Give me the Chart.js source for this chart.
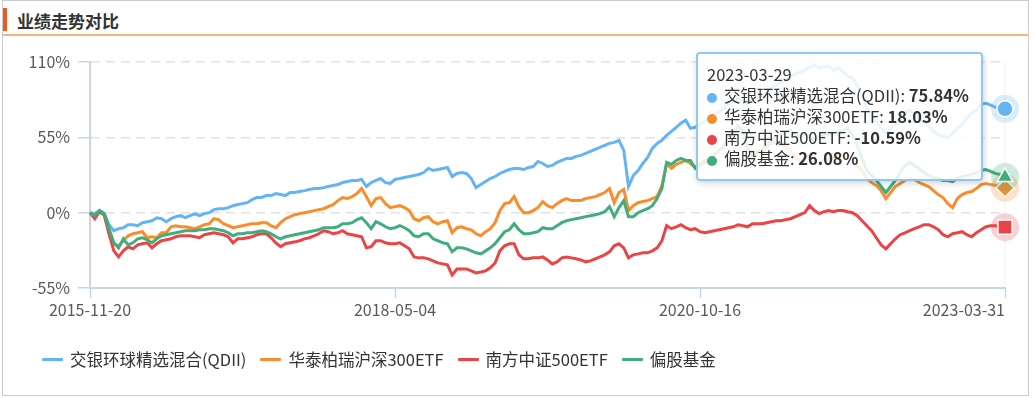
<!DOCTYPE html>
<html>
<head>
<meta charset="utf-8">
<script src="https://cdn.jsdelivr.net/npm/chart.js@4.4.1/dist/chart.umd.min.js"></script>
<style>
  body { margin: 0; background: #fff; font-family: "Noto Sans CJK SC", "Noto Sans", sans-serif; }
  #wrap { position: relative; width: 1036px; height: 398px; overflow: hidden; }
  #frame { position: absolute; left: 2px; top: 0; width: 1025px; height: 394px; border: 1px solid #cbcbcb; }
  #bar { position: absolute; left: 3px; top: 8px; width: 4px; height: 23px; background: #ec5a22; }
  #title { position: absolute; left: 17px; top: 9px; font-size: 17px; font-weight: bold; color: #333; line-height: 24px; }
  #rule { position: absolute; left: 3px; top: 34px; width: 1025px; height: 2px; background: #fbb07f; }
  canvas { position: absolute; left: 0; top: 0; }
  #legend { position: absolute; left: 42px; top: 348px; display: flex; font-size: 16.5px; color: #333; line-height: 22px; }
  .item { display: flex; align-items: center; margin-right: 14px; }
  .seg { width: 21px; height: 3px; margin-right: 7px; border-radius: 1px; }
  #tip { position: absolute; background: rgba(255,255,255,0.86); border: 2px solid rgba(125,190,238,0.85);
         border-radius: 4px; box-shadow: 1px 2px 6px rgba(0,0,0,0.18); padding: 10px 12px 10px 9px;
         font-size: 16.5px; line-height: 21px; color: #333; white-space: nowrap; }
  .dot { display: inline-block; width: 10px; height: 10px; border-radius: 50%; margin-right: 7px; vertical-align: -1px; }
</style>
</head>
<body>
<div id="wrap">
  <div id="frame"></div>
  <div id="bar"></div>
  <div id="title">业绩走势对比</div>
  <div id="rule"></div>
  <canvas id="myChart" width="1036" height="398"></canvas>
  <div id="legend"></div>
  <div id="tip"></div>
</div>
<script>
// categories: biweekly fridays 2015-11-20 .. 2023-03-31
const dates = []
for (let i = 0; i < 193; i++) {
    dates.push(new Date(Date.UTC(2015, 10, 20) + i * 14 * 86400000).toISOString().slice(0, 10))
}
const tickLabels = ['2015-11-20', '2018-05-04', '2020-10-16', '2023-03-31']
const yTicks = [-55, 0, 55, 110]
const hoverDate = '2023-03-29'

const names = ['交银环球精选混合(QDII)', '华泰柏瑞沪深300ETF', '南方中证500ETF', '偏股基金']

const blue = [
    0, -0.7, 1.5, -0.7, -8.8, -13.2, -11.7, -11.0, -8.8, -8.8,
    -9.5, -7.3, -6.6, -5.9, -3.7, -4.4, -6.6, -4.4, -2.9, -2.2,
    -3.7, -2.2, -0.7, -2.2, -0.7, 0, 2.2, 2.9, 2.9, 3.7,
    5.1, 5.9, 6.6, 7.3, 9.5, 11.0, 11.0, 12.5, 12.5, 13.9,
    13.2, 12.5, 14.7, 14.7, 15.4, 16.1, 16.9, 17.6, 17.6, 18.3,
    19.1, 19.8, 20.5, 22.0, 22.7, 23.5, 23.5, 24.2, 19.1, 22.0,
    23.5, 24.9, 22.0, 21.3, 24.2, 24.9, 25.7, 26.4, 27.1, 27.9,
    29.3, 32.3, 30.8, 31.5, 32.3, 33.0, 26.4, 28.6, 29.3, 28.6,
    24.9, 18.3, 20.5, 22.7, 24.9, 26.4, 28.6, 30.1, 31.5, 32.3,
    32.3, 31.5, 33.0, 33.7, 37.4, 35.9, 33.7, 34.5, 36.7, 38.1,
    39.6, 39.6, 41.1, 41.8, 43.3, 44.7, 46.2, 47.7, 49.1, 50.6,
    51.3, 52.8, 45.5, 19.1, 27.1, 30.8, 35.9, 40.3, 46.9, 50.6,
    52.8, 56.5, 59.4, 62.3, 65.3, 67.5, 61.6, 62.3, 64.5, 66.7,
    68.9, 71.9, 73.3, 76.3, 79.2, 80.7, 83.6, 82.1, 79.9, 82.1,
    84.3, 85.8, 88.0, 90.9, 93.1, 95.3, 96.8, 99.0, 101.2, 102.7,
    104.1, 106.3, 107.8, 105.6, 106.3, 107.0, 104.1, 105.6, 102.7, 99.8,
    98.3, 93.1, 85.8, 76.3, 71.1, 66.0, 61.6, 57.9, 61.6, 64.5,
    68.9, 73.3, 74.8, 71.9, 68.9, 66.0, 63.1, 59.4, 57.2, 55.7,
    55.0, 57.9, 61.6, 64.5, 68.9, 72.6, 74.8, 79.2, 79.9, 78.5,
    77.0, 76.3, 75.84
]
const orange = [
    0, -2.9, 1.5, -2.2, -15.4, -22.7, -24.2, -20.5, -16.9, -15.4,
    -14.7, -13.9, -18.3, -17.6, -18.3, -14.7, -14.7, -10.3, -9.5, -10.3,
    -10.3, -11.0, -11.7, -10.3, -8.8, -8.1, -4.4, -5.1, -8.1, -9.5,
    -11.0, -10.3, -9.5, -8.8, -8.1, -8.1, -7.3, -7.3, -9.5, -11.0,
    -7.3, -4.4, -2.9, -1.5, -0.7, 0, 0.7, 1.5, 2.2, 2.9,
    4.4, 5.9, 8.8, 11.0, 10.3, 11.7, 13.9, 17.6, 11.7, 5.1,
    10.3, 11.0, 6.6, 3.7, 4.4, 5.1, 3.7, 1.5, -4.4, -5.9,
    -3.7, -2.9, -6.6, -8.1, -6.6, -5.9, -14.7, -11.0, -10.3, -11.7,
    -12.5, -15.4, -16.9, -13.9, -11.7, -7.3, 1.5, 6.6, 7.3, 11.7,
    4.4, 0, 0, 1.5, 3.7, 8.1, 5.1, 3.7, 6.6, 8.8,
    10.3, 8.8, 8.8, 8.8, 10.3, 11.0, 11.7, 13.2, 14.7, 17.6,
    7.3, 14.7, 16.9, 1.5, 5.1, 7.3, 8.1, 8.8, 10.3, 11.7,
    19.8, 35.9, 32.3, 35.2, 36.7, 38.1, 35.9, 33.0, 35.9, 38.1,
    39.6, 42.5, 45.5, 46.9, 52.8, 56.5, 63.1, 60.1, 46.9, 44.0,
    45.5, 44.0, 48.4, 50.6, 51.3, 49.9, 48.4, 45.5, 40.3, 38.1,
    39.6, 41.8, 38.1, 35.9, 38.1, 39.6, 40.3, 41.8, 41.1, 42.5,
    39.6, 34.5, 30.8, 24.9, 22.0, 19.8, 16.1, 10.3, 14.7, 19.1,
    21.3, 23.5, 24.9, 24.2, 22.0, 20.5, 19.1, 16.1, 13.2, 11.0,
    6.6, 3.7, 10.3, 13.2, 14.7, 15.4, 17.6, 20.5, 21.3, 20.5,
    19.8, 19.1, 18.03
]
const red = [
    0, -4.4, 0.7, -1.5, -15.4, -27.9, -32.3, -27.9, -24.9, -26.4,
    -23.5, -22.7, -22.0, -25.7, -22.7, -20.5, -19.8, -19.1, -17.6, -16.9,
    -16.9, -16.9, -17.6, -18.3, -16.1, -15.4, -14.7, -15.4, -16.1, -17.6,
    -22.0, -19.1, -19.1, -18.3, -17.6, -16.1, -15.4, -15.4, -18.3, -22.0,
    -24.9, -22.7, -22.0, -21.3, -20.5, -19.1, -18.3, -16.9, -15.4, -13.2,
    -13.9, -15.4, -14.7, -13.2, -15.4, -16.1, -16.9, -17.6, -25.7, -24.9,
    -20.5, -20.5, -22.0, -22.7, -22.7, -22.0, -24.2, -26.4, -32.3, -33.0,
    -33.0, -33.7, -35.2, -36.7, -37.4, -38.1, -45.5, -41.1, -41.1, -41.1,
    -42.5, -44.0, -43.3, -42.5, -40.3, -36.7, -27.9, -24.2, -22.7, -22.7,
    -30.8, -33.7, -33.7, -33.0, -33.0, -32.3, -34.5, -37.4, -35.9, -33.0,
    -32.3, -33.0, -33.7, -34.5, -35.9, -35.2, -33.7, -32.3, -30.8, -28.6,
    -24.2, -22.7, -25.7, -33.0, -30.8, -30.1, -29.3, -29.3, -27.9, -25.7,
    -20.5, -9.5, -11.7, -10.3, -8.8, -11.0, -12.5, -11.7, -13.9, -14.7,
    -13.9, -13.2, -12.5, -11.7, -11.0, -10.3, -8.8, -9.5, -10.3, -8.1,
    -8.1, -8.1, -7.3, -6.6, -5.9, -5.9, -5.1, -4.4, -2.9, -1.5,
    0, 5.1, 1.5, -0.7, 0.7, 1.5, 0.7, 1.5, 1.5, 0.7,
    0, -2.2, -5.9, -9.5, -13.2, -18.3, -23.5, -26.4, -22.7, -19.1,
    -16.1, -14.7, -13.2, -11.7, -10.3, -8.8, -8.8, -10.3, -12.5, -16.1,
    -17.6, -15.4, -14.7, -13.9, -16.1, -17.6, -14.7, -12.5, -10.3, -9.5,
    -9.5, -10.3, -10.59
]
const green = [
    0, -2.2, 1.5, -0.7, -11.7, -22.0, -25.7, -19.1, -23.5, -22.0,
    -19.1, -18.3, -19.8, -22.0, -19.1, -16.9, -16.1, -15.4, -14.7, -13.9,
    -13.2, -13.2, -13.2, -12.5, -12.5, -11.7, -11.7, -12.5, -13.2, -14.7,
    -16.9, -15.4, -15.4, -14.7, -14.7, -13.9, -13.2, -13.9, -15.4, -17.6,
    -19.1, -17.6, -16.9, -16.1, -15.4, -14.7, -13.9, -13.2, -12.5, -11.0,
    -11.0, -11.0, -10.3, -8.1, -8.1, -7.3, -5.1, -3.7, -7.3, -11.7,
    -6.6, -8.1, -10.3, -11.7, -11.0, -9.5, -11.0, -13.2, -16.9, -17.6,
    -15.4, -15.4, -19.1, -20.5, -22.0, -22.7, -28.6, -25.7, -25.7, -26.4,
    -27.9, -29.3, -30.1, -27.9, -25.7, -22.7, -18.3, -13.9, -12.5, -8.1,
    -12.5, -15.4, -15.4, -14.7, -13.9, -11.0, -11.7, -11.7, -9.5, -7.3,
    -5.9, -5.1, -4.4, -3.7, -2.9, -2.2, -1.5, -0.7, 0.7, 4.4,
    -2.9, 3.7, 8.8, -2.9, -2.9, 0, 1.5, 2.9, 5.1, 10.3,
    17.6, 36.7, 35.2, 38.1, 39.6, 38.1, 38.1, 32.3, 34.5, 36.7,
    38.1, 41.8, 45.5, 49.1, 54.3, 57.9, 63.1, 60.1, 45.5, 41.1,
    44.0, 45.5, 49.1, 52.8, 55.7, 57.2, 58.7, 60.1, 57.2, 55.7,
    57.2, 55.7, 52.8, 55.0, 56.5, 57.2, 57.9, 59.4, 60.1, 61.6,
    56.5, 49.1, 39.6, 30.8, 27.1, 23.5, 19.1, 14.7, 19.1, 23.5,
    29.3, 34.5, 36.7, 34.5, 32.3, 29.3, 27.1, 25.7, 24.9, 23.5,
    23.5, 22.7, 25.0, 26.4, 27.1, 27.9, 29.3, 30.8, 31.5, 30.1,
    28.6, 27.9, 26.08
]

const colors = ['#64b4f4', '#f98c2b', '#ea4446', '#41ad7d']
const halos = ['rgba(100,180,244,0.25)', 'rgba(249,140,43,0.25)', 'rgba(234,68,70,0.25)', 'rgba(65,173,125,0.25)']
const styles = ['circle', 'rectRot', 'rect', 'triangle']
const sizes = [8, 9, 10, 9]
const last = dates.length - 1

Chart.defaults.font.family = '"Noto Sans CJK SC", "Noto Sans", sans-serif'

function makeSet(k, data) {
    return {
        label: names[k],
        data: data,
        borderColor: colors[k],
        backgroundColor: colors[k],
        borderWidth: 3,
        tension: 0,
        order: 3 - k,
        halo: halos[k],
        pointStyle: styles[k],
        pointRadius: c => c.dataIndex === last ? sizes[k] : 0,
        pointBackgroundColor: colors[k],
        pointBorderColor: '#fff',
        pointBorderWidth: 1.5
    }
}

const markers = {
    id: 'markers',
    afterDatasetsDraw(chart) {
        const ctx = chart.ctx
        const area = chart.chartArea
        const p0 = chart.getDatasetMeta(0).data[last]
        ctx.save()
        ctx.strokeStyle = 'rgba(0,0,0,0.06)'
        ctx.lineWidth = 1
        ctx.beginPath()
        ctx.moveTo(p0.x, area.top)
        ctx.lineTo(p0.x, area.bottom)
        ctx.stroke()
        chart.data.datasets.forEach((ds, k) => {
            const pt = chart.getDatasetMeta(k).data[last]
            ctx.fillStyle = ds.halo
            ctx.beginPath()
            ctx.arc(pt.x, pt.y, 14, 0, Math.PI * 2)
            ctx.fill()
            pt.draw(ctx, area)
        })
        ctx.restore()
    },
    beforeDraw(chart) {
        // last date label hugs the right edge
        const items = chart.scales.x.getLabelItems()
        if (items.length) items[items.length - 1].options.textAlign = 'right'
    },
    afterDraw(chart) {
        const pt = chart.getDatasetMeta(0).data[last]
        const tip = document.getElementById('tip')
        tip.style.left = (pt.x - 309) + 'px'
        tip.style.top = (pt.y - 57) + 'px'
    }
}

const chartie = document.getElementById('myChart')
new Chart(chartie, {
    type: 'line',
    data: {
        labels: dates,
        datasets: [makeSet(0, blue), makeSet(1, orange), makeSet(2, red), makeSet(3, green)]
    },
    options: {
        responsive: false,
        animation: false,
        events: [],
        layout: { padding: { left: 0, right: 31, top: 62, bottom: 80 } },
        plugins: { legend: { display: false }, tooltip: { enabled: false } },
        scales: {
            x: {
                offset: false,
                afterBuildTicks: s => { s.ticks = s.ticks.filter(t => tickLabels.includes(dates[t.value])) },
                afterFit: s => { s.height = 30; s.paddingLeft = 0; s.paddingRight = 0 },
                ticks: { autoSkip: false, maxRotation: 0, padding: 2, color: '#595959', font: { size: 16 } },
                grid: { drawOnChartArea: false, tickLength: 10, tickColor: '#c9d5ea', tickWidth: 1.5 },
                border: { color: '#c9d5ea', width: 2 }
            },
            y: {
                min: -55,
                max: 110,
                afterBuildTicks: s => { s.ticks = yTicks.map(v => ({ value: v })) },
                afterFit: s => { s.width = 90 },
                ticks: { padding: 8, color: '#595959', font: { size: 16 }, callback: v => v + '%' },
                grid: { color: '#e2e2e2', lineWidth: 1.5, tickLength: 12, tickColor: '#c9d5ea', tickWidth: 1.5 },
                border: { color: '#c9d5ea', width: 2, dash: [9, 6] }
            }
        }
    },
    plugins: [markers]
})

// legend
const legend = document.getElementById('legend')
names.forEach((n, k) => {
    legend.innerHTML += '<div class="item"><span class="seg" style="background:' + colors[k] + '"></span>' + n + '</div>'
})

// tooltip at the hovered (last) point
const series = [blue, orange, red, green]
let html = '<div>' + hoverDate + '</div>'
names.forEach((n, k) => {
    html += '<div><span class="dot" style="background:' + colors[k] + '"></span>' + n + ': <b>' +
        series[k][last].toFixed(2) + '%</b></div>'
})
document.getElementById('tip').innerHTML = html
</script>
</body>
</html>
